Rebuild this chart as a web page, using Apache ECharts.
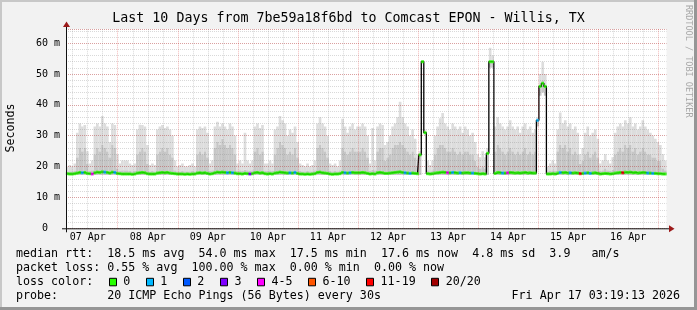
<!DOCTYPE html>
<html><head><meta charset="utf-8">
<script src="https://cdn.jsdelivr.net/npm/echarts@6/dist/echarts.min.js"></script>
<style>html,body{margin:0;padding:0;background:#f2f2f2}#c{width:697px;height:310px}</style>
</head><body><div id="c"></div>
<script>
// ---- data (hours since plot start = Apr 7 03:19:13, one value per hour) ----
const startOffsetHours = 3 + 19/60 + 13/3600;
const spanHours = 240;
const dayLabels = ['07 Apr','08 Apr','09 Apr','10 Apr','11 Apr','12 Apr','13 Apr','14 Apr','15 Apr','16 Apr'];
const yTickStep = 10;

const medianRtt = [
17.7,17.6,17.6,17.7,17.9,18.1,18.0,18.1,17.8,17.7,17.6,18.0,18.2,18.1,18.3,18.2,18.1,17.9,18.2,18.1,17.8,17.7,17.6,17.6,
17.6,17.6,17.5,17.6,17.9,18.0,18.1,18.0,17.7,17.6,17.6,17.6,17.9,18.0,18.1,18.0,18.1,17.9,17.8,17.7,17.6,17.6,17.6,17.5,
17.6,17.5,17.6,17.6,17.9,18.0,17.9,18.0,17.8,17.6,17.7,18.0,18.2,18.1,18.2,18.1,18.0,18.1,18.0,17.9,17.7,17.7,17.6,17.8,
17.7,17.6,17.7,18.0,18.1,17.9,18.0,17.7,17.6,17.7,17.6,17.9,18.0,18.2,18.1,18.0,17.9,18.0,17.9,18.1,17.8,17.6,17.6,17.5,
17.6,17.5,17.6,17.7,18.1,18.2,18.0,17.9,17.8,17.6,17.5,17.6,17.6,17.7,18.1,18.0,17.9,18.0,18.1,18.0,18.0,18.0,18.1,18.0,
17.8,17.6,17.7,17.6,18.0,18.1,18.0,17.8,17.8,17.9,18.0,18.1,18.2,18.3,18.1,18.0,17.9,17.8,17.9,17.8,17.7,23.8,54.0,31.0,
17.7,17.6,17.7,17.9,18.0,18.1,18.2,18.1,18.0,18.0,18.1,18.0,17.9,18.0,17.9,18.0,18.0,17.9,17.9,17.8,17.7,17.6,17.7,17.6,
24.3,54.0,54.0,17.8,18.1,18.0,17.9,17.9,18.0,18.1,18.0,17.9,18.0,17.9,18.0,18.1,17.9,18.0,17.9,17.9,35.0,46.0,47.0,46.0,
17.6,17.6,17.7,17.6,17.9,18.1,18.0,18.1,17.9,18.0,17.9,18.0,17.9,17.7,17.8,17.9,18.0,17.8,17.9,18.0,17.8,17.6,17.7,17.8,
17.7,17.6,17.7,17.9,18.0,18.1,18.0,18.2,18.1,18.2,18.0,18.1,17.9,18.0,18.1,18.0,17.9,17.9,17.8,17.8,17.7,17.7,17.6,17.6
];
const smokeLow = [
17.3,17.3,17.3,17.3,17.3,17.3,17.3,17.3,17.3,17.3,17.3,17.3,17.3,17.3,17.3,17.3,17.3,17.3,17.3,17.3,17.3,17.3,17.3,17.3,
17.3,17.3,17.3,17.3,17.3,17.3,17.3,17.3,17.3,17.3,17.3,17.3,17.3,17.3,17.3,17.3,17.3,17.3,17.3,17.3,17.3,17.3,17.3,17.3,
17.3,17.3,17.3,17.3,17.3,17.3,17.3,17.3,17.3,17.3,17.3,17.3,17.3,17.3,17.3,17.3,17.3,17.3,17.3,17.3,17.3,17.3,17.3,17.3,
17.3,17.3,17.3,17.3,17.3,17.3,17.3,17.3,17.3,17.3,17.3,17.3,17.3,17.3,17.3,17.3,17.3,17.3,17.3,17.3,17.3,17.3,17.3,17.3,
17.3,17.3,17.3,17.3,17.3,17.3,17.3,17.3,17.3,17.3,17.3,17.3,17.3,17.3,17.3,17.3,17.3,17.3,17.3,17.3,17.3,17.3,17.3,17.3,
17.3,17.3,17.3,17.3,17.3,17.3,17.3,17.3,17.3,17.3,17.3,17.3,17.3,17.3,17.3,17.3,17.3,17.3,17.3,17.3,17.3,17.3,53.5,30.5,
17.3,17.3,17.3,17.3,17.3,17.3,17.3,17.3,17.3,17.3,17.3,17.3,17.3,17.3,17.3,17.3,17.3,17.3,17.3,17.3,17.3,17.3,17.3,17.3,
17.3,52,52,17.3,17.3,17.3,17.3,17.3,17.3,17.3,17.3,17.3,17.3,17.3,17.3,17.3,17.3,17.3,17.3,17.3,33,43,44,43,
17.3,17.3,17.3,17.3,17.3,17.3,17.3,17.3,17.3,17.3,17.3,17.3,17.3,17.3,17.3,17.3,17.3,17.3,17.3,17.3,17.3,17.3,17.3,17.3,
17.3,17.3,17.3,17.3,17.3,17.3,17.3,17.3,17.3,17.3,17.3,17.3,17.3,17.3,17.3,17.3,17.3,17.3,17.3,17.3,17.3,17.3,17.3,17.3
];
const smokeMid = [
18.5,18.5,18.5,18.6,23,26,25,26,21,18.6,18.8,24,26,25,27,26,25,23,27,26,19.5,18.6,18.8,18.8,
18.8,18.6,18.5,18.6,24,25,26,25,21,18.5,18.6,18.5,24,25,26,25,26,24,23,18.8,18.5,18.5,18.6,18.5,
18.5,18.5,18.6,18.5,24,25,24,25,23,18.6,18.8,26,28,27,29,27,26,27,26,24,18.6,18.8,18.6,19,
18.8,18.6,18.8,25,26,24,25,18.6,18.6,18.8,18.6,24,26,28,27,26,24,25,24,26,23,18.6,18.5,18.5,
18.6,18.5,18.5,18.8,26,27,26,25,23,18.6,18.5,18.6,18.5,18.8,26,25,24,25,26,25,25,25,26,25,
23,18.6,19,18.8,25,26,26,22,23,24,26,27,27,28,27,26,25,24,25,23,20,24,54,31,
18.8,18.5,18.8,24,26,27,27,26,25,25,26,25,24,25,24,25,25,24,24,22,20,19.5,20,19.5,
24.5,54,54,25,27,26,25,24,25,26,25,24,25,24,25,26,24,25,24,25,35,46,48,46,
18.5,18.6,18.8,18.6,25,27,26,27,25,26,24,25,24,21,22,24,25,23,24,25,23,18.6,18.8,19.5,
18.8,18.6,19,24,25,26,25,27,26,27,25,26,24,25,26,25,24,24,23,23,22,22,19.5,18.8
];
const smokeMax = [
20,20.5,20,21,31,34,33,33.5,25,21,22,33,34,33,36.4,34,33,28,34,33.5,24,21,22,22,
22,21,20.5,21,32,33.6,33.5,33,27,20.5,21,20.5,32,33,33.5,32.5,33,32,30,22,20,20.5,21,20,
20,20.5,21,20,32,33,32.5,33,31,21,22,33,34.5,33,34,33,32,34,33,30,21,22,21,31,
22,21,22,33,34,32.5,33.5,21,21,22,21,32,33,36.4,35,34,30,32,31,33,28,21,20.5,20,
21,20,20.5,22,34,36,34,33,30,21,20.5,21,20,22,35.5,33,31,33,34,32,33,33,34,33,
30,21,32.5,22,33,34,33.5,27,28,30,33,34,36,41,36,34,33,30,32,29,24,25,54.5,32,
22,20.5,22,30,33,35.7,37.4,34,33,32,34,33,32,33,31,33,32,30,31,28,24,23,25,23,
26,58.5,56,33,36,34,33,32,33,35,33,32,33,31,33,34,32,33,31,32,36,50,54,50,
20,21,22,21,32,37.5,34,35,33,34,32,33,31,24,26,31,33,30,31,32,29,21,22,24,
22,21,23,31,33,34,33,35,34,36,33,34,32,33,35,33,32,31,30,29,28,27,24,22
];
// [hour index, lost pings out of 20]
const lossEvents = [[6,1],[10,4],[15,1],[19,1],[64,1],[66,1],[73,3],[89,1],[91,1],[111,1],[113,1],
  [135,1],[137,1],[152,4],[154,1],[157,1],[162,1],[174,1],[176,4],[188,1],[197,1],[201,1],[205,11],
  [207,1],[209,1],[222,11],[232,1],[234,1]];
const lossLabels = ['0','1','2','3','4-5','6-10','11-19','20/20'];
const lossUpper  = [0,1,2,3,5,10,19,20];
const lossColors = ['#26ff00','#00b8ff','#0059ff','#7e00ff','#ff00ff','#ff5500','#ff0000','#a10000'];

const statsLines = [
  'median rtt:  18.5 ms avg  54.0 ms max  17.5 ms min  17.6 ms now  4.8 ms sd  3.9   am/s',
  'packet loss: 0.55 % avg  100.00 % max  0.00 % min  0.00 % now',
  'loss color:',
  'probe:       20 ICMP Echo Pings (56 Bytes) every 30s'
];
const dateText = 'Fri Apr 17 03:19:13 2026';
const titleText = 'Last 10 Days from 7be59a18f6bd to Comcast EPON - Willis, TX';

// ---- build ----
const MONO = '"DejaVu Sans Mono", monospace';
const G = {left: 66, top: 29, right: 30.5, bottom: 81.7};
const plotRight = 697 - G.right, plotBottom = 310 - G.bottom;
const MINOR = 'rgba(130,130,130,0.3)', MAJOR = 'rgba(220,40,40,0.32)';

const lossAt = medianRtt.map(() => 0);
lossEvents.forEach(([i, n]) => { lossAt[i] = n; });
const bucketOf = n => lossUpper.findIndex(u => n <= u);

const xs = medianRtt.map((_, i) => i + 0.5);

const smokeBand = (lo, hi, color) => ({
  type: 'custom', silent: true, z: 1, animation: false, clip: true,
  encode: {x: 0, y: [1, 2]},
  data: xs.map((x, i) => [x, lo[i], hi[i]]),
  renderItem: (params, api) => {
    const x = api.value(0);
    const a = api.coord([x - 0.5, api.value(2)]);
    const b = api.coord([x + 0.5, api.value(1)]);
    return {type: 'rect', shape: {x: a[0], y: a[1], width: b[0] - a[0] + 0.15, height: b[1] - a[1]}, style: {fill: color}};
  }
});

const gridLines = [];
for (let h = 6; h < startOffsetHours + spanHours; h += 6) {
  const t = h - startOffsetHours;
  if (t <= 0) continue;
  const major = h % 24 === 0;
  gridLines.push({xAxis: t, lineStyle: {color: major ? MAJOR : MINOR, type: [1, 1], width: 1}});
}

const series = [
  smokeBand(smokeLow, smokeMid, '#c6c6c6'),
  smokeBand(smokeMid, smokeMax, '#dddddd'),
  {type: 'line', data: [], silent: true, z: 2, animation: false,
   markLine: {symbol: ['none', 'none'], silent: true, animation: false, label: {show: false}, data: gridLines}},
  {type: 'line', step: 'middle', data: xs.map((x, i) => [x, medianRtt[i]]), showSymbol: false, silent: true,
   lineStyle: {color: '#000', width: 1.3}, z: 3, animation: false}
];
lossLabels.forEach((lab, b) => {
  series.push({type: 'scatter', symbol: 'rect', symbolSize: [2.8, 3], silent: true, z: 4, animation: false,
    itemStyle: {color: lossColors[b]},
    data: xs.map((x, i) => [x, medianRtt[i], lossAt[i]]).filter(d => bucketOf(d[2]) === b).map(d => [d[0], d[1]])});
});

const textEl = (text, x, y, opts) => Object.assign({type: 'text', x, y, z: 50, silent: true,
  style: Object.assign({text, fill: '#000', font: '11.67px ' + MONO, textAlign: 'left', textVerticalAlign: 'middle'}, (opts && opts.style) || {})},
  opts && opts.rotation !== undefined ? {rotation: opts.rotation} : {});

const charW = 7.025;
const rowY = [254.3, 268.3, 282.3, 296.3];
const graphics = [
  {type: 'rect', shape: {x: 0, y: 0, width: 697, height: 2}, style: {fill: '#c8c8c8'}, z: 50, silent: true},
  {type: 'rect', shape: {x: 0, y: 0, width: 2, height: 310}, style: {fill: '#c8c8c8'}, z: 50, silent: true},
  {type: 'rect', shape: {x: 694, y: 0, width: 3, height: 310}, style: {fill: '#969696'}, z: 50, silent: true},
  {type: 'rect', shape: {x: 0, y: 307, width: 697, height: 3}, style: {fill: '#969696'}, z: 50, silent: true},
  textEl(titleText, 348.5, 19, {style: {font: '13.3px ' + MONO, textAlign: 'center'}}),
  textEl('Seconds', 11, 128, {rotation: Math.PI / 2, style: {textAlign: 'center'}}),
  textEl('RRDTOOL / TOBI OETIKER', 688, 5, {rotation: -Math.PI / 2, style: {font: '8.5px ' + MONO, fill: '#a8a8a8'}}),
  // axes + arrows
  {type: 'line', shape: {x1: G.left + 0.5, y1: plotBottom + 4, x2: G.left + 0.5, y2: 26}, style: {stroke: '#111', lineWidth: 1}, z: 60, silent: true},
  {type: 'line', shape: {x1: G.left - 4, y1: plotBottom + 0.5, x2: plotRight + 3, y2: plotBottom + 0.5}, style: {stroke: '#111', lineWidth: 1}, z: 60, silent: true},
  {type: 'polygon', shape: {points: [[G.left - 3, 27], [G.left + 4, 27], [G.left + 0.5, 21.5]]}, style: {fill: '#9c1a1a'}, z: 61, silent: true},
  {type: 'polygon', shape: {points: [[plotRight + 2.5, plotBottom - 3], [plotRight + 2.5, plotBottom + 4], [plotRight + 8, plotBottom + 0.5]]}, style: {fill: '#9c1a1a'}, z: 61, silent: true}
];
statsLines.forEach((s, r) => graphics.push(textEl(s, 16, rowY[r])));
graphics.push(textEl(dateText, 680, rowY[3], {style: {textAlign: 'right'}}));
let cursor = 16 + 13 * charW;
lossLabels.forEach((lab, b) => {
  graphics.push({type: 'rect', shape: {x: Math.round(cursor + 1.4) + 0.5, y: rowY[2] - 4, width: 7, height: 7.5},
    style: {fill: lossColors[b], stroke: '#000', lineWidth: 1}, z: 50, silent: true});
  graphics.push(textEl(lab, cursor + 16, rowY[2]));
  cursor += (lab.length + 4.27) * charW;
});

const yCommon = {type: 'value', position: 'left', min: 0, max: 64.6, axisLine: {show: false}, axisTick: {show: false}, z: 2};
const option = {
  backgroundColor: '#f2f2f2',
  animation: false,
  grid: {left: G.left, top: G.top, right: G.right, bottom: G.bottom, show: true, backgroundColor: '#ffffff', borderWidth: 0, containLabel: false, outerBoundsMode: 'none'},
  xAxis: {type: 'value', min: 0, max: spanHours, axisLine: {show: false}, axisTick: {show: false}, splitLine: {show: false},
    axisLabel: {customValues: dayLabels.map((_, k) => 12 + 24 * k - startOffsetHours),
      formatter: v => dayLabels[Math.round((v + startOffsetHours - 12) / 24)] || '',
      fontFamily: MONO, fontSize: 10, color: '#000', margin: 4}},
  yAxis: [
    Object.assign({}, yCommon, {interval: 2, axisLabel: {show: false},
      splitLine: {show: true, lineStyle: {color: MINOR, type: [1, 1], width: 1}}}),
    Object.assign({}, yCommon, {interval: yTickStep, offset: 0,
      splitLine: {show: true, lineStyle: {color: MAJOR, type: [1, 1], width: 1}},
      axisLabel: {fontFamily: MONO, fontSize: 10, color: '#000', margin: 6, showMaxLabel: false,
        formatter: v => (Math.abs(v - Math.round(v / yTickStep) * yTickStep) > 1e-6) ? '' : (v === 0 ? '0  ' : v + ' m')}})
  ],
  graphic: graphics,
  series: series
};
const chart = echarts.init(document.getElementById('c'), null, {renderer: 'canvas'});
chart.setOption(option);
</script></body></html>
